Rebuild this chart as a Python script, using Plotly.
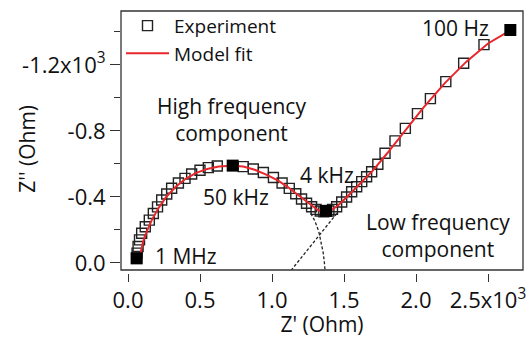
import plotly.graph_objects as go

# Experimental impedance points (Ohm)
exp_zre = [60, 63, 70, 80, 95, 120, 148, 176, 205, 234, 269, 303, 350, 396, 442, 500, 558, 620,
           800, 870, 940, 1010, 1070, 1120, 1165, 1205, 1240, 1275, 1306, 1335, 1360, 1395, 1420,
           1449, 1484, 1518, 1553, 1588, 1623, 1657, 1692, 1735, 1785, 1854, 1926, 2010, 2100,
           2207, 2331, 2472]
exp_zim = [-30, -60, -100, -140, -180, -220, -260, -300, -340, -382, -418, -453, -485, -513, -539,
           -562, -578, -588, -584, -570, -548, -518, -485, -452, -420, -388, -362, -341, -325, -315,
           -310, -315, -325, -341, -370, -400, -432, -462, -493, -523, -553, -598, -665, -740, -816,
           -905, -996, -1099, -1210, -1323]

# Highlighted frequencies (filled squares)
mark_zre = [60, 727, 1375, 2655]
mark_zim = [-28, -590, -316, -1412]

# Model fit curve
fit_zre = [83, 90, 105, 130, 165, 210, 265, 330, 400, 470, 550, 630, 720, 800, 880, 960, 1040,
           1110, 1170, 1230, 1280, 1320, 1350, 1380, 1420, 1460, 1520, 1600, 1700, 1800, 1920,
           2050, 2200, 2350, 2500, 2655]
fit_zim = [-20, -70, -130, -190, -260, -330, -400, -460, -510, -545, -570, -585, -590, -585, -565,
           -535, -500, -460, -420, -380, -345, -320, -310, -310, -325, -350, -400, -470, -560,
           -665, -800, -940, -1090, -1220, -1330, -1410]

# Extrapolated components (dashed)
hf_zre = [1270, 1300, 1325, 1343, 1356, 1364, 1368]
hf_zim = [-300, -250, -190, -125, -60, 0, 42]
lf_zre = [1450, 1135]
lf_zim = [-300, 42]

x_ticks = [0, 500, 1000, 1500, 2000, 2500]
x_labels = ["0.0", "0.5", "1.0", "1.5", "2.0", "2.5x10<sup>3</sup>"]
y_ticks = [0, -400, -800, -1200]
y_labels = ["0.0", "-0.4", "-0.8", "-1.2x10<sup>3</sup>"]
y_minor = [-200, -600, -1000, -1400]

FONT = "Open Sans"
TXT = "#111111"
TS = 21
TK = 22

fig = go.Figure()
fig.add_trace(go.Scatter(x=hf_zre, y=hf_zim, mode="lines", showlegend=False,
                         line=dict(color="#222", width=1.3, dash="3px,2px")))
fig.add_trace(go.Scatter(x=lf_zre, y=lf_zim, mode="lines", showlegend=False,
                         line=dict(color="#222", width=1.3, dash="3px,2px")))
fig.add_trace(go.Scatter(x=exp_zre, y=exp_zim, mode="markers", name="Experiment",
                         marker=dict(symbol="square-open", size=10, color="#222",
                                     line=dict(width=1.4, color="#222"))))
fig.add_trace(go.Scatter(x=fit_zre, y=fit_zim, mode="lines", name="Model fit",
                         line=dict(color="#e8262b", width=2)))
fig.add_trace(go.Scatter(x=mark_zre, y=mark_zim, mode="markers", showlegend=False,
                         marker=dict(symbol="square", size=12, color="#000")))

annots = [
    dict(x=2521, y=-1424, text="100 Hz", xanchor="right"),
    dict(x=722, y=-870, text="High frequency<br>component", xanchor="center"),
    dict(x=750, y=-400, text="50 kHz", xanchor="center"),
    dict(x=174, y=-42, text="1 MHz", xanchor="left"),
    dict(x=1382, y=-533, text="4 kHz", xanchor="center"),
    dict(x=2153, y=-167, text="Low frequency<br>component", xanchor="center"),
]
for a in annots:
    fig.add_annotation(x=a["x"], y=a["y"], text=a["text"], xanchor=a["xanchor"],
                       yanchor="middle", showarrow=False, align="center",
                       font=dict(family=FONT, size=TS, color=TXT))

# y-axis title placed like the original (close to the axis, beside the labels)
fig.add_annotation(xref="paper", yref="paper", x=-0.236, y=0.475, text="Z'' (Ohm)",
                   textangle=-90, showarrow=False, xanchor="center", yanchor="middle",
                   font=dict(family=FONT, size=TS, color=TXT))

fig.add_shape(type="rect", xref="x domain", yref="y domain", x0=0, x1=1, y0=0, y1=1,
              line=dict(color="#333", width=1.3), layer="above")

fig.update_layout(
    width=528, height=338,
    margin=dict(l=121, r=5, t=11, b=65, autoexpand=False),
    paper_bgcolor="white", plot_bgcolor="white",
    font=dict(family=FONT, size=21, color=TXT),
    legend=dict(x=0.0, y=1.016, xanchor="left", yanchor="top", bgcolor="rgba(0,0,0,0)",
                font=dict(family=FONT, size=19, color=TXT), itemwidth=43,
                tracegroupgap=0),
    xaxis=dict(range=[-48.6, 2743], showgrid=False, zeroline=False, showline=False,
               anchor="free", position=0, automargin=False,
               tickvals=x_ticks, ticktext=x_labels, ticks="outside", ticklen=8,
               tickwidth=1.3, tickcolor="#333", tickfont=dict(size=TK),
               title=dict(text="Z' (Ohm)", font=dict(size=TS), standoff=2)),
    yaxis=dict(range=[42.4, -1527], domain=[0.0115, 1], showgrid=False, zeroline=False,
               showline=False, automargin=False,
               tickvals=y_ticks, ticktext=y_labels, ticks="outside",
               ticklen=10, tickwidth=1.3, tickcolor="#333", tickfont=dict(size=TK),
               minor=dict(tickvals=y_minor, ticks="outside", ticklen=6, tickwidth=1.3,
                          tickcolor="#333")),
)

fig.write_html("out.html", config={"displayModeBar": False},
               post_script="document.body.style.margin='0';")
